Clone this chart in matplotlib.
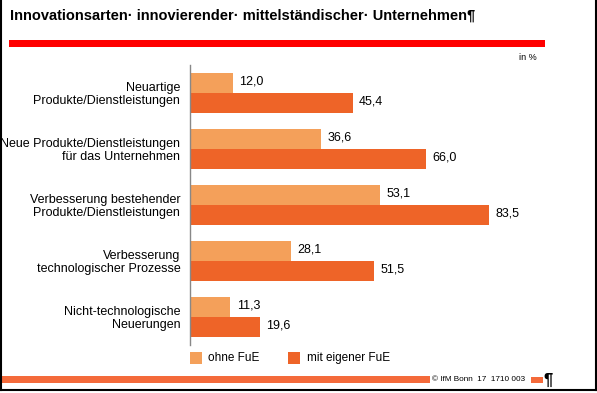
import matplotlib
matplotlib.use("Agg")
import matplotlib.pyplot as plt
from matplotlib.patches import Rectangle
import numpy as np

plt.rcParams['font.family'] = ['Liberation Sans', 'DejaVu Sans']

categories = [
    "Neuartige\nProdukte/Dienstleistungen",
    "Neue Produkte/Dienstleistungen\nfür das Unternehmen",
    "Verbesserung bestehender\nProdukte/Dienstleistungen",
    "Verbesserung\ntechnologischer Prozesse",
    "Nicht-technologische\nNeuerungen",
]
ohne_fue = [12.0, 36.6, 53.1, 28.1, 11.3]
mit_fue = [45.4, 66.0, 83.5, 51.5, 19.6]
series_names = ["ohne FuE", "mit eigener FuE"]
title = "Innovationsarten· innovierender· mittelständischer· Unternehmen¶"
footer = "© IfM Bonn  17  1710 003"

c_light = "#F4A05A"
c_dark = "#EE6428"
c_red = "#FF0000"
c_foot = "#F46A3A"

W, H = 597, 393
fig = plt.figure(figsize=(W / 100, H / 100), dpi=100)

# overlay axes in pixel coords for decorations
ov = fig.add_axes([0, 0, 1, 1])
ov.set_xlim(0, W)
ov.set_ylim(H, 0)
ov.axis("off")

ov.text(10, 16, title, fontsize=10.5, fontweight="bold", va="center", ha="left")
ov.add_patch(Rectangle((9, 40), 536, 7, color=c_red, lw=0))
ov.text(528, 57, "in %", fontsize=6.5, va="center", ha="center")

# legend
ov.add_patch(Rectangle((190, 352), 12, 12, color=c_light, lw=0))
ov.text(208, 358, series_names[0], fontsize=8.5, va="center", ha="left")
ov.add_patch(Rectangle((288, 352), 12, 12, color=c_dark, lw=0))
ov.text(307, 358, series_names[1], fontsize=8.5, va="center", ha="left")

# footer
ov.add_patch(Rectangle((0, 376), 430, 7, color=c_foot, lw=0))
ov.text(432, 379.5, footer, fontsize=5.9, va="center", ha="left")
ov.add_patch(Rectangle((531, 377), 12, 6, color=c_foot, lw=0))
ov.text(543, 380, "¶", fontsize=12, fontweight="bold", va="center", ha="left")

# border
ov.plot([1, 1], [0, 390], color="black", lw=1.5, clip_on=False)
ov.plot([595.5, 595.5], [0, 390], color="black", lw=1.5, clip_on=False)
ov.plot([0, 597], [390, 390], color="black", lw=1.5, clip_on=False)

# main axes
left = 190 / W
top_px, bot_px = 65, 345
ax = fig.add_axes([left, 1 - bot_px / H, 358 / W, (bot_px - top_px) / H])
ax.patch.set_alpha(0)
y = np.arange(len(categories))
bh = 0.365
ax.barh(y - bh / 2, ohne_fue, height=bh, color=c_light, lw=0)
ax.barh(y + bh / 2, mit_fue, height=bh, color=c_dark, lw=0)
ax.set_xlim(0, 100)
ax.set_ylim(len(categories) - 0.5, -0.5)

for i, (a, b) in enumerate(zip(ohne_fue, mit_fue)):
    ax.annotate(f"{a:.1f}".replace(".", ","), (a, i - bh / 2), xytext=(4.5, 1),
                textcoords="offset points", va="center", ha="left", fontsize=9)
    ax.annotate(f"{b:.1f}".replace(".", ","), (b, i + bh / 2), xytext=(4.5, 1),
                textcoords="offset points", va="center", ha="left", fontsize=9)

ax.set_yticks(y)
ax.set_yticklabels(categories, fontsize=9, ha="right", multialignment="right",
                   linespacing=1.1)
ax.tick_params(axis="y", length=0, pad=7)
ax.set_xticks([])
for s in ["top", "right", "bottom"]:
    ax.spines[s].set_visible(False)
ax.spines["left"].set_color("#888888")
ax.spines["left"].set_linewidth(1)

fig.savefig("out.png", dpi=100)
